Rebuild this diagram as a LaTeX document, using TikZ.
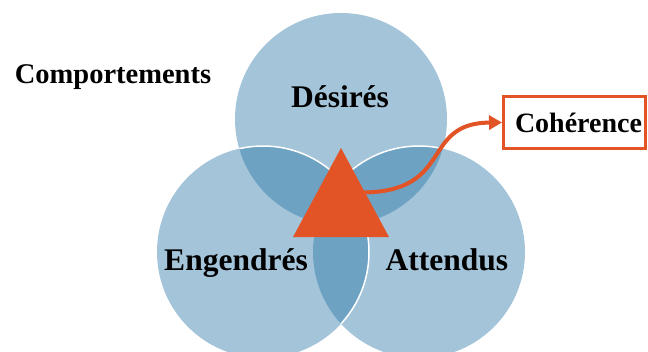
\documentclass[tikz,border=0pt]{standalone}
\usepackage{fontspec}
\setmainfont{Liberation Serif}
\usepackage{tikz}
\usetikzlibrary{positioning,arrows.meta,calc}
\usepackage{xcolor}
\definecolor{vennblue}{RGB}{36,115,165}
\definecolor{cohred}{RGB}{226,83,38}

\begin{document}
\begin{tikzpicture}[x=1pt,y=-1pt,
  venn/.style={fill=vennblue,fill opacity=0.42},
  rim/.style={white,line width=1.5pt},
  lbl/.style={font=\fontsize{31.5}{31.5}\selectfont\bfseries,anchor=base,inner sep=0pt},
  cohbox/.style={draw=cohred,line width=3pt,minimum width=142pt,minimum height=52pt,
    inner sep=0pt,text height=20pt,text depth=0pt,font=\fontsize{28}{28}\selectfont\bfseries}]
\useasboundingbox (0,0) rectangle (648,351);
% the three sets
\coordinate (cD) at (341,119);
\coordinate (cE) at (263,252);
\coordinate (cA) at (419,252);
\foreach \c in {cD,cA,cE} \fill[venn] (\c) circle[radius=106pt];
% white rims where a circle lies over an earlier one
\begin{scope}
  \clip (cD) circle[radius=106pt];
  \draw[rim] (cE) circle[radius=106pt] (cA) circle[radius=106pt];
\end{scope}
\begin{scope}
  \clip (cA) circle[radius=106pt];
  \draw[rim] (cE) circle[radius=106pt];
\end{scope}
% triangle in the middle
\coordinate (tA) at (341,148);
\coordinate (tL) at (293,237);
\coordinate (tR) at (389,237);
\fill[cohred] (tA) -- (tR) -- (tL) -- cycle;
\node[lbl] (desires) at (340,107) {Désirés};
\node[lbl] (engendres) at (236,270) {Engendrés};
\node[lbl] (attendus) at (447,270) {Attendus};
\node[font=\fontsize{28.5}{28.5}\selectfont\bfseries,anchor=base,inner sep=0pt] (comp) at (113,83) {Comportements};
\node[cohbox] (coh) at (574.5,122.5) {\hspace*{8pt}Cohérence};
\coordinate (out) at ($(tA)!0.5!(tR)+(-3,0)$);
\draw[cohred,line width=4pt,-{Triangle[length=13pt,width=14pt]}] (out) .. controls (455,192) and (420,123) .. (coh.west);
\end{tikzpicture}
\end{document}
